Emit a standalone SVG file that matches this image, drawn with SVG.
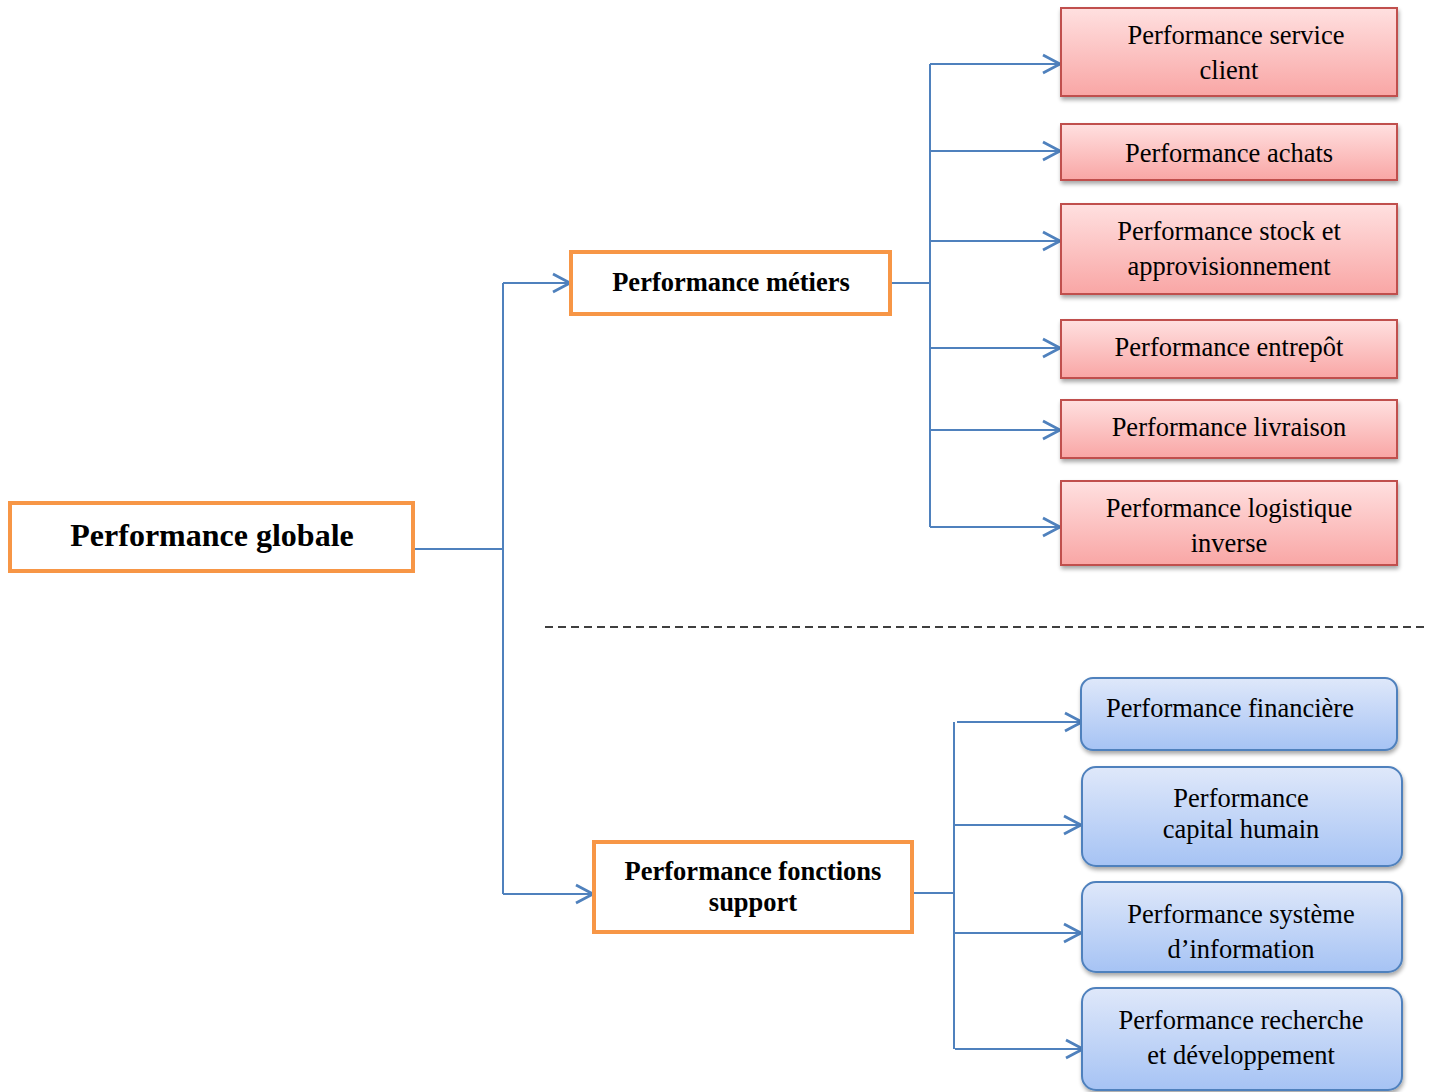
<svg xmlns="http://www.w3.org/2000/svg" width="1429" height="1092" viewBox="0 0 1429 1092">
<style>
.conn{fill:none;stroke:#4F81BD;stroke-width:2}
.main{fill:#fff;stroke:#F79646;stroke-width:4}
.red{fill:url(#gRed);stroke:#C0504D;stroke-width:2;filter:url(#sh)}
.blue{fill:url(#gBlue);stroke:#4F81BD;stroke-width:2;filter:url(#sh)}
.t{font-family:"Liberation Serif","Times New Roman",serif;font-size:26.5px;fill:#000;text-anchor:middle}
.b{font-weight:bold}
</style>
<defs>
<linearGradient id="gRed" x1="0" y1="0" x2="0" y2="1"><stop offset="0" stop-color="#FFE0E0"/><stop offset="1" stop-color="#F9A6A5"/></linearGradient>
<linearGradient id="gBlue" x1="0" y1="0" x2="0" y2="1"><stop offset="0" stop-color="#DFE8FA"/><stop offset="1" stop-color="#A6C3F4"/></linearGradient>
<filter id="sh" x="-5%" y="-10%" width="110%" height="130%"><feGaussianBlur in="SourceAlpha" stdDeviation="2"/><feOffset dx="1" dy="3"/><feComponentTransfer><feFuncA type="linear" slope="0.35"/></feComponentTransfer><feMerge><feMergeNode/><feMergeNode in="SourceGraphic"/></feMerge></filter>
<marker id="ar" markerUnits="userSpaceOnUse" markerWidth="24" markerHeight="24" refX="20" refY="12" orient="auto"><path d="M3,3 L20,12 L3,21" fill="none" stroke="#4F81BD" stroke-width="2.8"/></marker>
</defs>
<g id="connectors">
<path class="conn" d="M413,549 H503"/>
<path class="conn" d="M503,283 V894"/>
<path class="conn" d="M503,283 H570" marker-end="url(#ar)"/>
<path class="conn" d="M503,894 H593" marker-end="url(#ar)"/>
<path class="conn" d="M890,283 H930"/>
<path class="conn" d="M930,64 V527"/>
<path class="conn" d="M930,64 H1060" marker-end="url(#ar)"/>
<path class="conn" d="M930,151 H1060" marker-end="url(#ar)"/>
<path class="conn" d="M930,241 H1060" marker-end="url(#ar)"/>
<path class="conn" d="M930,348 H1060" marker-end="url(#ar)"/>
<path class="conn" d="M930,430 H1060" marker-end="url(#ar)"/>
<path class="conn" d="M930,527 H1060" marker-end="url(#ar)"/>
<path class="conn" d="M912,893 H954"/>
<path class="conn" d="M954,722 V1049"/>
<path class="conn" d="M957,722 H1082" marker-end="url(#ar)"/>
<path class="conn" d="M955,825 H1081" marker-end="url(#ar)"/>
<path class="conn" d="M955,933 H1081" marker-end="url(#ar)"/>
<path class="conn" d="M955,1049 H1083" marker-end="url(#ar)"/>
</g>
<line id="separator" x1="545" y1="627" x2="1440" y2="627" stroke="#000" stroke-width="1.5" stroke-dasharray="8,5"/>
<g id="n-globale"><rect class="main" x="10" y="503" width="403" height="68"/><text class="t b" x="212" y="546" style="font-size:32px">Performance globale</text></g>
<g id="n-metiers"><rect class="main" x="571" y="252" width="319" height="62"/><text class="t b" x="731" y="291">Performance métiers</text></g>
<g id="n-support"><rect class="main" x="594" y="842" width="318" height="90"/><text class="t b" x="753" y="880">Performance fonctions</text><text class="t b" x="753" y="911">support</text></g>
<g id="n-service"><rect class="red" x="1061" y="8" width="336" height="88"/><text class="t" x="1236" y="44">Performance service</text><text class="t" x="1229" y="79">client</text></g>
<g id="n-achats"><rect class="red" x="1061" y="124" width="336" height="56"/><text class="t" x="1229" y="162">Performance achats</text></g>
<g id="n-stock"><rect class="red" x="1061" y="204" width="336" height="90"/><text class="t" x="1229" y="240">Performance stock et</text><text class="t" x="1229" y="275">approvisionnement</text></g>
<g id="n-entrepot"><rect class="red" x="1061" y="320" width="336" height="58"/><text class="t" x="1229" y="356">Performance entrepôt</text></g>
<g id="n-livraison"><rect class="red" x="1061" y="400" width="336" height="58"/><text class="t" x="1229" y="436">Performance livraison</text></g>
<g id="n-inverse"><rect class="red" x="1061" y="481" width="336" height="84"/><text class="t" x="1229" y="517">Performance logistique</text><text class="t" x="1229" y="552">inverse</text></g>
<g id="n-financiere"><rect class="blue" x="1081" y="678" width="316" height="72" rx="12"/><text class="t" x="1230" y="717">Performance financière</text></g>
<g id="n-capital"><rect class="blue" x="1082" y="767" width="320" height="99" rx="14"/><text class="t" x="1241" y="807">Performance</text><text class="t" x="1241" y="838">capital humain</text></g>
<g id="n-si"><rect class="blue" x="1082" y="882" width="320" height="90" rx="14"/><text class="t" x="1241" y="923">Performance système</text><text class="t" x="1241" y="958">d’information</text></g>
<g id="n-rd"><rect class="blue" x="1082" y="988" width="320" height="102" rx="14"/><text class="t" x="1241" y="1029">Performance recherche</text><text class="t" x="1241" y="1064">et développement</text></g>
</svg>
